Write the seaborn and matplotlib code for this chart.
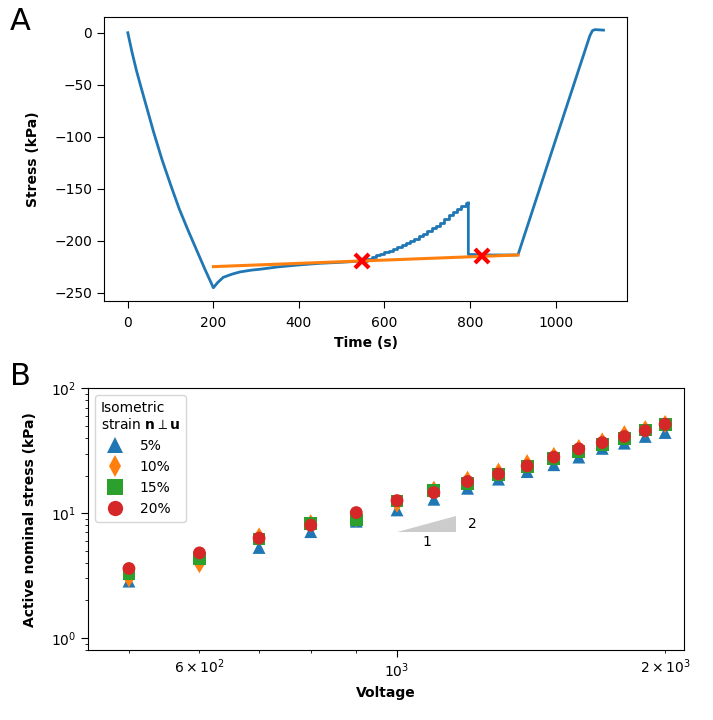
import matplotlib
matplotlib.use("Agg")
import matplotlib.pyplot as plt
import seaborn as sns
import pandas as pd
import numpy as np

# Panel A: stress trace
ramp_t = [0, 10, 20, 30, 45, 60, 80, 100, 120, 140, 160, 180, 200]
ramp_s = [0, -19, -36, -51, -73, -95, -122, -146, -169, -189, -208, -227, -245]
relax_t = [200, 210, 223, 243, 262, 290, 309, 350, 402, 450, 500, 527, 550]
relax_s = [-245, -240, -235, -232, -229.8, -228, -227.2, -225, -223, -221.5, -220.5, -219.8, -219]
step_t = [550, 560, 570, 580, 590, 600, 610, 620, 630, 640, 650, 660, 670,
          680, 690, 700, 710, 720, 730, 740, 750, 760, 770, 780, 790, 796]
step_s = [-219, -217, -215.5, -214, -212.5, -211, -209.5, -207.5, -205.5, -204,
          -202, -200, -198, -195.5, -193, -190.5, -188, -185.5, -182.5, -179,
          -175.5, -172, -169, -166, -163.5, -163.5]
end_t = [796, 796, 850, 912, 1000, 1080, 1086, 1092, 1112]
end_s = [-163.5, -213, -213.5, -213.5, -103, -3, 2, 3, 2.5]
fit_t = [200, 912]
fit_s = [-224.7, -213.5]
cross_t = [547, 828]
cross_s = [-219.3, -214.6]

# Panel B: active stress vs voltage
voltage = [500, 600, 700, 800, 900, 1000, 1100, 1200, 1300, 1400, 1500, 1600, 1700, 1800, 1900, 2000]
strain_labels = ["5%", "10%", "15%", "20%"]
stress_5 = [2.85, 4.4, 5.3, 7.1, 8.6, 10.6, 12.9, 15.8, 18.7, 21.5, 24.4, 28.1, 33.0, 36.3, 41.1, 44.2]
stress_10 = [3.0, 3.9, 6.5, 8.3, 9.1, 11.9, 15.4, 18.5, 21.5, 25.1, 28.7, 33.2, 37.5, 42.9, 47.1, 51.8]
stress_15 = [3.3, 4.3, 6.2, 8.2, 8.8, 12.5, 15.1, 17.2, 20.3, 23.6, 27.2, 31.2, 35.3, 39.8, 46.4, 50.9]
stress_20 = [3.6, 4.8, 6.3, 8.0, 10.1, 12.6, 14.6, 17.9, 20.6, 23.9, 28.1, 32.7, 36.7, 41.1, 45.8, 51.5]

slope_x = [1000, 1166, 1166]
slope_y = [7.0, 7.0, 9.5]

blue, orange, green, red = sns.color_palette("tab10")[:4]

plt.rcParams["xtick.major.size"] = 5
plt.rcParams["ytick.major.size"] = 5

fig = plt.figure(figsize=(7.13, 7.2), dpi=100)
axA = fig.add_axes([0.1459, 0.5824, 0.7339, 0.3944])
axB = fig.add_axes([0.1237, 0.0972, 0.8356, 0.3635])

# ---- A
sns.lineplot(x=ramp_t + relax_t[1:], y=ramp_s + relax_s[1:], sort=False, estimator=None,
             color=blue, lw=2, ax=axA)
sns.lineplot(x=step_t, y=step_s, sort=False, estimator=None, color=blue, lw=2,
             drawstyle="steps-post", ax=axA)
sns.lineplot(x=end_t, y=end_s, sort=False, estimator=None, color=blue, lw=2, ax=axA)
sns.lineplot(x=fit_t, y=fit_s, sort=False, estimator=None, color=orange, lw=2.2, ax=axA)
axA.plot(cross_t, cross_s, ls="none", marker="x", ms=10, mew=3, color="red", zorder=5)
axA.set_xlabel("Time (s)", fontsize=10, fontweight="bold")
axA.set_ylabel("Stress (kPa)", fontsize=10, fontweight="bold", labelpad=10)
axA.tick_params(labelsize=10)
axA.tick_params(axis="x", pad=6)

# ---- B
df = pd.DataFrame({
    "Voltage": voltage * 4,
    "stress": stress_5 + stress_10 + stress_15 + stress_20,
    "strain": np.repeat(strain_labels, len(voltage)),
})
sns.scatterplot(data=df, x="Voltage", y="stress", hue="strain", style="strain",
                palette=[blue, orange, green, red],
                markers={"5%": "^", "10%": "d", "15%": "s", "20%": "o"},
                s=85, linewidth=0, ax=axB)
axB.set_xscale("log")
axB.set_yscale("log")
axB.set_xlim(450, 2100)
axB.set_ylim(0.8, 100)
axB.fill(slope_x, slope_y, color="0.8", lw=0)
axB.text(1080, 5.9, "1", fontsize=10, ha="center", va="center")
axB.text(1216, 8.2, "2", fontsize=10, ha="center", va="center")
axB.set_xlabel("Voltage", fontsize=10, fontweight="bold")
axB.set_ylabel("Active nominal stress (kPa)", fontsize=10, fontweight="bold", labelpad=10)
axB.tick_params(labelsize=10)
handles, labels = axB.get_legend_handles_labels()
for h in handles:
    h.set_markersize(11)
axB.legend(handles, labels, title="Isometric\nstrain $\\mathbf{n}\\perp\\mathbf{u}$",
           loc="upper left", fontsize=10, title_fontsize=10, alignment="left")

fig.text(0.014, 0.97, "A", fontsize=22, va="center")
fig.text(0.014, 0.477, "B", fontsize=22, va="center")

fig.savefig("out.png", dpi=100)
